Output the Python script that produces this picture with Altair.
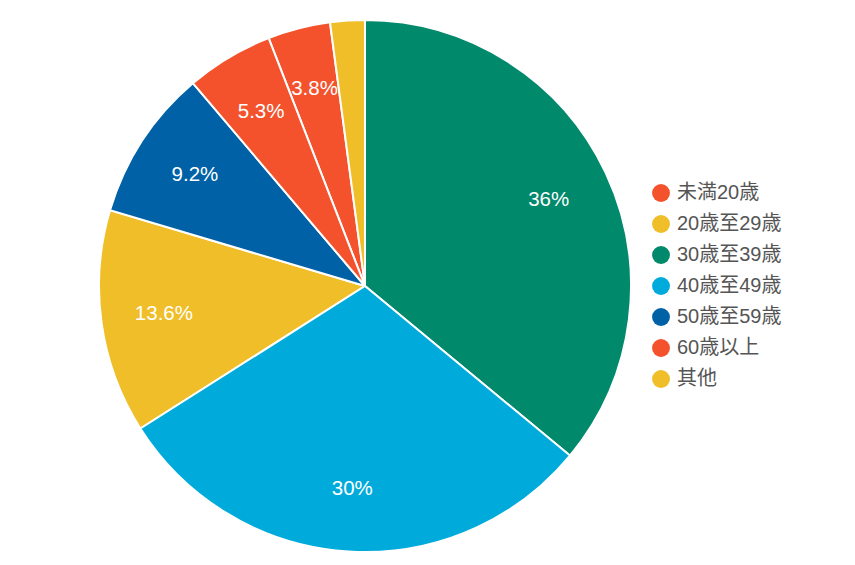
import altair as alt
import pandas as pd

categories = ["未満20歳", "20歳至29歳", "30歳至39歳", "40歳至49歳", "50歳至59歳", "60歳以上", "其他"]
values = [3.8, 13.6, 36.0, 30.0, 9.2, 5.3, 2.1]
labels = ["3.8%", "13.6%", "36%", "30%", "9.2%", "5.3%", ""]
colors = ["#F4522D", "#EFBE29", "#00896B", "#00ABDC", "#0061A6", "#F4522D", "#EFBE29"]

df = pd.DataFrame({"category": categories, "value": values, "label": labels})

FONT = "Liberation Sans, Noto Sans CJK TC"
CX, CY = 365, 286

base = alt.Chart(df).encode(
    theta=alt.Theta("value:Q", stack=True),
    order=alt.Order("value:Q", sort="descending"),
)

arcs = base.mark_arc(x=CX, y=CY, outerRadius=266, stroke="white", strokeWidth=2).encode(
    color=alt.Color(
        "category:N",
        scale=alt.Scale(domain=categories, range=colors),
        sort=categories,
        legend=alt.Legend(
            title=None,
            orient="none",
            legendX=651,
            legendY=183,
            symbolType="circle",
            symbolSize=320,
            symbolStrokeWidth=0,
            labelFontSize=20,
            labelFont=FONT,
            labelColor="#555555",
            rowPadding=11,
            labelOffset=6,
        ),
    )
)

text = base.mark_text(x=CX, y=CY, radius=203, fontSize=20.5, font=FONT, color="white").encode(
    text="label:N"
)

chart = (
    alt.layer(arcs, text)
    .properties(width=855, height=565, autosize=alt.AutoSizeParams(type="none"), padding=0)
    .configure_view(stroke=None)
)

chart.save("out.html", embed_options={"renderer": "svg", "actions": False})
